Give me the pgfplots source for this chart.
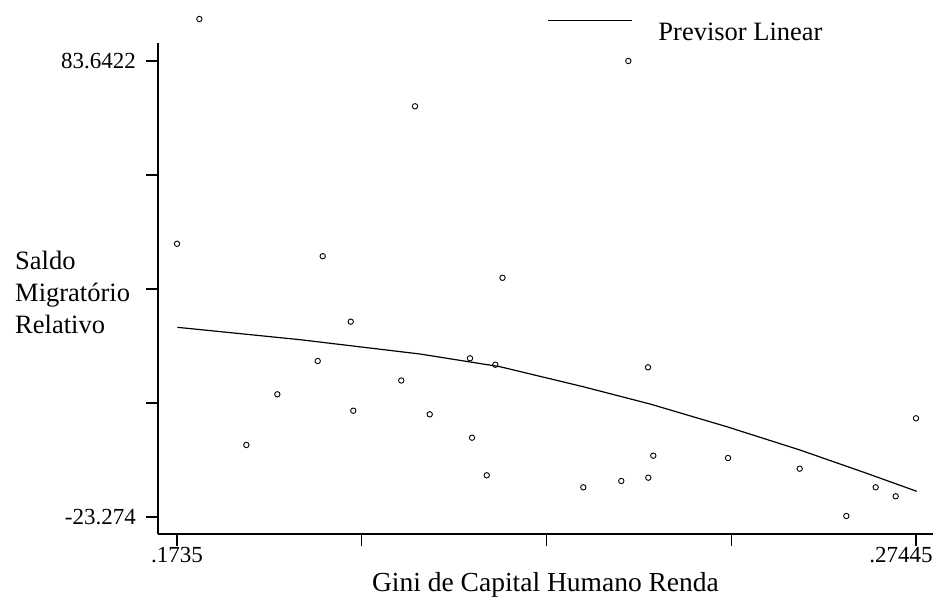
\documentclass[border=0pt]{standalone}
\usepackage{pgfplots}
\pgfplotsset{compat=1.18}
\usepackage{fontspec}
\setmainfont{Liberation Serif}
\begin{document}
\begin{tikzpicture}
\path[use as bounding box] (-158bp,-69bp) rectangle (780bp,534bp);
\begin{axis}[
  at={(0,0)}, anchor=south west,
  scale only axis, width=775bp, height=491bp,
  xmin=0.17090, xmax=0.27677, ymin=-27.26, ymax=87.86,
  axis x line=bottom, axis y line=left,
  axis line style={-, line width=1.3bp},
  tick style={line width=1.1bp, black},
  tick align=outside, major tick length=12bp,
  xtick={0.1735,0.1987375,0.223975,0.2492125,0.27445},
  xticklabels={.1735,{},{},{},.27445\hspace*{30bp}},
  ytick={-23.274,3.455,30.184,56.913,83.6422},
  yticklabels={-23.274,{},{},{},83.6422},
  /pgf/number format/assume math mode=true,
  tick label style={font=\fontsize{23bp}{27bp}\selectfont},
  xticklabel style={inner sep=1bp},
  yticklabel style={inner sep=0bp, xshift=-10bp},
  xlabel={Gini de Capital Humano Renda},
  xlabel style={font=\fontsize{27.5bp}{31bp}\selectfont, at={(axis description cs:0.5,0)}, anchor=base, yshift=-57bp},
  clip=false,
  legend style={draw=none, fill=none, inner sep=0pt, at={(axis description cs:0.502,1.0244)}, anchor=west,
    font=\fontsize{26.5bp}{30bp}\selectfont, column sep=26bp, nodes={inner sep=0pt}},
  legend image code/.code={\draw[line width=1.2bp] (0bp,12bp) -- (84bp,12bp);},
]
\addplot[only marks, mark=o, mark size=2.7bp, mark options={line width=0.9bp, black, fill=white}, forget plot] coordinates {
(0.17655,93.49) (0.20601,73.02) (0.1735,40.78) (0.19340,37.87) (0.23515,83.64)
(0.21796,32.81) (0.19723,22.52) (0.19272,13.30) (0.20413,8.73) (0.18720,5.49)
(0.19758,1.65) (0.18297,-6.39) (0.21352,13.93) (0.21698,12.43) (0.23784,11.82)
(0.20802,0.80) (0.2138,-4.68) (0.23856,-8.90) (0.21581,-13.50) (0.2290,-16.31)
(0.23419,-14.83) (0.23788,-14.06) (0.24877,-9.44) (0.25856,-11.95) (0.27445,-0.13)
(0.26894,-16.31) (0.27167,-18.42) (0.26493,-23.04)
};
\addplot[black, line width=1.2bp] coordinates {
(0.17354,21.20) (0.1903,18.3) (0.20669,14.94) (0.21762,11.96) (0.22896,7.28)
(0.23811,3.22) (0.24859,-2.10) (0.2586,-7.57) (0.26771,-13.03) (0.27454,-17.25)
};
\addlegendentry{Previsor Linear}
\end{axis}
\node[anchor=west, align=left, font=\fontsize{26.5bp}{32bp}\selectfont, inner sep=0pt] at (-143bp,242bp) {Saldo\\Migratório\\Relativo};
\end{tikzpicture}
\end{document}
